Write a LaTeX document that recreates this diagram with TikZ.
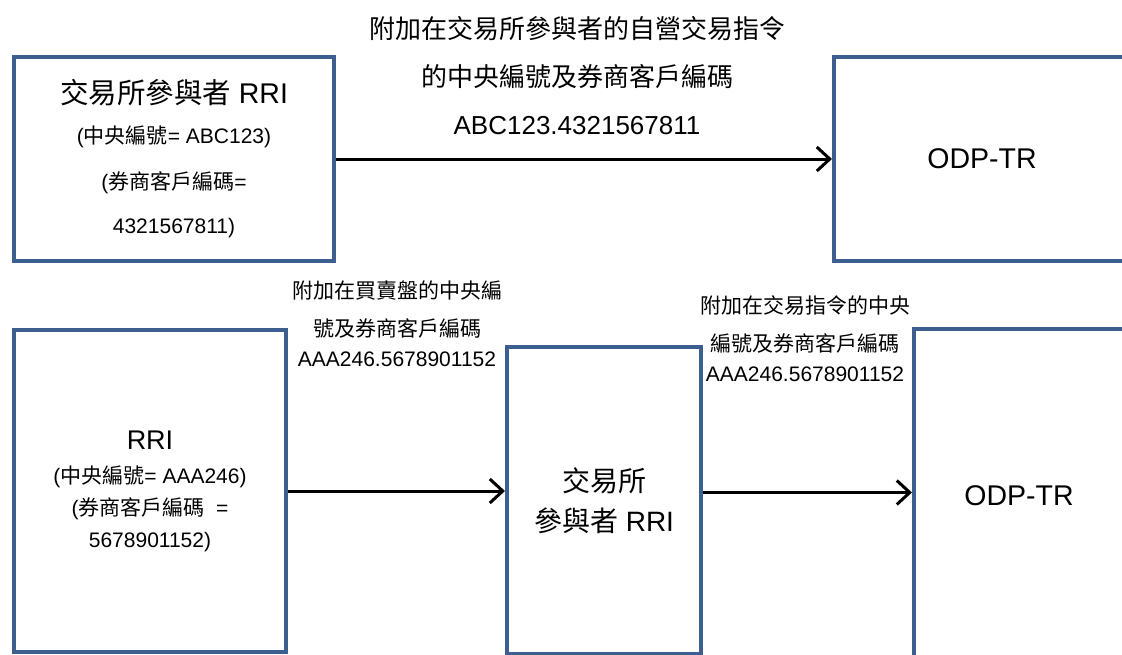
\documentclass[tikz,border=0pt]{standalone}
\usepackage{fontspec}
\setmainfont{Liberation Sans}
\newfontfamily\cj{Noto Sans CJK TC}
\usetikzlibrary{arrows.meta}
\definecolor{boxblue}{HTML}{3C5F8F}
\tikzset{
  box/.style={draw=boxblue, line width=4pt, fill=white, rectangle, inner sep=0pt, align=center, anchor=north west},
  arr/.style={line width=3pt, -{Straight Barb[length=13pt, width=24pt, line width=3pt]}},
  lbl/.style={align=center, inner sep=0pt},
}
\begin{document}
\begin{tikzpicture}[x=1pt, y=-1pt]
\useasboundingbox (0,0) rectangle (1122,654);
\clip (0,0) rectangle (1122,654);
% boxes
\node[box, minimum width=320pt, minimum height=204pt, font=\fontsize{21}{46}\selectfont] (b1) at (12,55)
  {{\fontsize{28.5}{34}\selectfont{\cj 交易所參與者} RRI}\\[-6pt]
   ({\cj 中央編號}= ABC123)\\
   ({\cj 券商客戶編碼}=\\[-2pt]
   4321567811)};
\node[box, minimum width=296pt, minimum height=204pt, font=\fontsize{28.5}{34}\selectfont] (b2) at (832,55)
  {ODP-TR};
\node[box, minimum width=272pt, minimum height=322pt, font=\fontsize{21}{32}\selectfont] (b3) at (12,328)
  {{\fontsize{27}{34}\selectfont RRI}\\[2pt]
   ({\cj 中央編號}= AAA246)\\
   ({\cj 券商客戶編碼}\ \ =\\
   5678901152)};
\node[box, minimum width=194pt, minimum height=307pt, font=\fontsize{28}{40}\selectfont] (b4) at (505,345)
  {{\cj 交易所}\\{\cj 參與者} RRI};
\node[box, minimum width=210pt, minimum height=333pt, font=\fontsize{28.5}{34}\selectfont] (b5) at (912,327)
  {ODP-TR};
% labels
\node[lbl, font=\fontsize{26}{48}\selectfont] (l1) at (577,76)
  {{\cj 附加在交易所參與者的自營交易指令}\\{\cj 的中央編號及券商客戶編碼}\\ABC123.4321567811};
\node[lbl, font=\fontsize{21}{38}\selectfont] (l2) at (397,324)
  {{\cj 附加在買賣盤的中央編}\\{\cj 號及券商客戶編碼}\\[-8pt]AAA246.5678901152};
\node[lbl, font=\fontsize{21}{38}\selectfont] (l3) at (805,339)
  {{\cj 附加在交易指令的中央}\\{\cj 編號及券商客戶編碼}\\[-8pt]AAA246.5678901152};
% arrows
\coordinate (a3s) at ([yshift=8pt]b4.east);
\draw[arr] (b1.east) -- (b2.west |- b1.east);
\draw[arr] (b3.east) -- (b4.west |- b3.east);
\draw[arr] (a3s) -- (b5.west |- a3s);
\end{tikzpicture}
\end{document}
